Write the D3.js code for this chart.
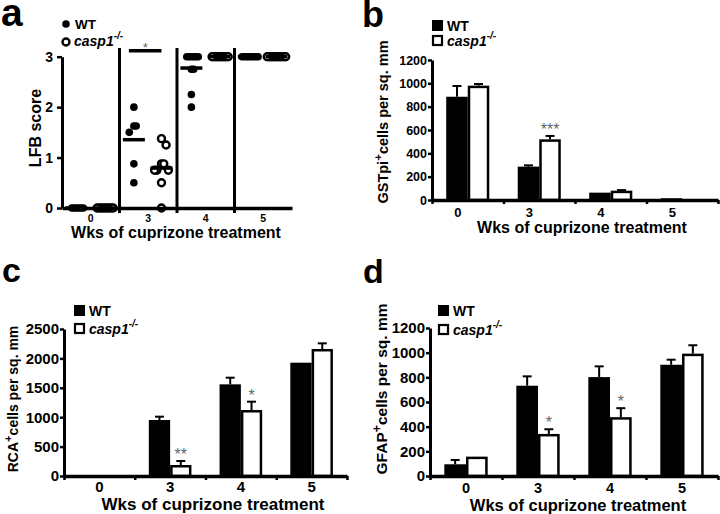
<!DOCTYPE html>
<html><head><meta charset="utf-8">
<script src="https://cdn.jsdelivr.net/npm/d3@7"></script>
<style>
body{margin:0;background:#fff}
svg{display:block}
text{font-family:"Liberation Sans",Arial,Helvetica,sans-serif;}
</style>
</head><body>
<svg id="chart" width="720" height="514"></svg>
<script>
// ---------- DATA ----------
const weeks = ["0", "3", "4", "5"];
const groups = ["WT", "casp1"];
const xTitle = "Wks of cuprizone treatment";

// Panel a: LFB score (individual animals)
const lfbWT = [
  [0, 0, 0, 0, 0, 0],
  [2, 1.625, 1.625, 1.5, 0.875, 0.5],
  [3, 3, 3, 3, 3, 3, 2.75, 2.75, 2.25, 2],
  [3, 3, 3, 3, 3, 3, 3, 3]
];
const lfbKO = [
  [0, 0, 0, 0, 0, 0, 0, 0],
  [1.375, 1.25, 0.875, 0.875, 0.75, 0.75, 0.75, 0.5, 0],
  [3, 3, 3, 3, 3, 3, 3, 3],
  [3, 3, 3, 3, 3, 3, 3, 3, 3]
];
const lfbTicks = [0, 1, 2, 3];

// Panel b: GSTpi+ cells per sq. mm
const gstWT = [885, 286, 63, 15];
const gstWTErr = [92, 11, 0, 0];
const gstKO = [980, 520, 80, 5];
const gstKOErr = [14, 29, 5, 0];
const gstStars = ["", "***", "", ""];
const gstTicks = [0, 200, 400, 600, 800, 1000, 1200];

// Panel c: RCA+ cells per sq. mm
const rcaWT = [0, 952, 1559, 1927];
const rcaWTErr = [0, 57, 113, 0];
const rcaKO = [0, 187, 1122, 2160];
const rcaKOErr = [0, 68, 142, 96];
const rcaStars = ["", "**", "*", ""];
const rcaTicks = [0, 500, 1000, 1500, 2000, 2500];

// Panel d: GFAP+ cells per sq. mm
const gfapWT = [95, 732, 802, 902];
const gfapWTErr = [35, 76, 87, 41];
const gfapKO = [157, 341, 477, 992];
const gfapKOErr = [0, 38, 73, 68];
const gfapStars = ["", "*", "*", ""];
const gfapTicks = [0, 200, 400, 600, 800, 1000, 1200];

// ---------- DRAW ----------
const svg = d3.select("#chart");

function styleAxis(g, fs) {
  g.select(".domain").attr("stroke", "#000").attr("stroke-width", 3);
  g.selectAll(".tick line").attr("stroke", "#000").attr("stroke-width", 2.5);
  g.selectAll("text").attr("font-size", fs).attr("font-weight", "bold").attr("fill", "#000");
}

function panelLetter(t, x, y, fs) {
  svg.append("text").attr("x", x).attr("y", y).attr("font-size", fs)
    .attr("font-weight", "bold").text(t);
}

function yTitle(x, y, main, sup, rest, fs) {
  const t = svg.append("text").attr("transform", `translate(${x},${y}) rotate(-90)`)
    .attr("text-anchor", "middle").attr("font-size", fs).attr("font-weight", "bold");
  t.append("tspan").text(main);
  if (sup) {
    t.append("tspan").attr("dy", -6).attr("font-size", fs * 0.8).text(sup);
    t.append("tspan").attr("dy", 6).text(rest);
  }
}

function xTitleText(x, y, fs) {
  svg.append("text").attr("x", x).attr("y", y).attr("text-anchor", "middle")
    .attr("font-size", fs).attr("font-weight", "bold").text(xTitle);
}

function legendLabel(x, y, fs, name) {
  const t = svg.append("text").attr("x", x).attr("y", y).attr("font-size", fs).attr("font-weight", "bold");
  if (name === "WT") { t.text("WT"); return; }
  t.append("tspan").attr("font-style", "italic").text("casp1");
  t.append("tspan").attr("dy", -7).attr("font-size", fs * 0.72).attr("font-style", "italic").text("-/-");
}

// ---- Panel a ----
(function () {
  const y = d3.scaleLinear().domain([0, 3]).range([208, 56.7]);
  const x = d3.scaleBand().domain(weeks).range([62, 292]);
  const pos = { WT: 0.25, casp1: 0.73 };
  const sameStep = 2.3, minDist = 7;

  // column-scatter layout: equal values sit side by side, near values avoid overlap
  function swarm(vals, cx) {
    const placed = [];
    vals.forEach(v => {
      const py = y(v);
      const cands = [0];
      for (let i = 1; i < 40; i++) cands.push(i * sameStep, -i * sameStep);
      let px = cx;
      for (const dx of cands) {
        const ok = placed.every(p => {
          const ddx = Math.abs(p.x - (cx + dx)), ddy = Math.abs(p.y - py);
          if (ddy < 0.5) return ddx >= sameStep * 0.99;
          return Math.hypot(ddx, ddy) >= minDist;
        });
        if (ok) { px = cx + dx; break; }
      }
      placed.push({ x: px, y: py, v });
    });
    return placed;
  }

  const ga = svg.append("g");
  // separators
  weeks.slice(1).forEach(w => {
    ga.append("line").attr("x1", x(w)).attr("x2", x(w)).attr("y1", 48).attr("y2", 213)
      .attr("stroke", "#000").attr("stroke-width", 3);
  });

  [lfbWT, lfbKO].forEach((ser, si) => {
    const gname = groups[si];
    ser.forEach((vals, wi) => {
      const cx = x(weeks[wi]) + x.bandwidth() * pos[gname];
      const pts = swarm(vals, cx);
      pts.forEach(p => {
        if (si === 0) ga.append("circle").attr("cx", p.x).attr("cy", p.y).attr("r", 3.8).attr("fill", "#000");
        else ga.append("circle").attr("cx", p.x).attr("cy", p.y).attr("r", 3.5)
          .attr("fill", "#fff").attr("stroke", "#000").attr("stroke-width", 2.4);
      });
      const m = d3.mean(vals);
      ga.append("line").attr("x1", cx - 11).attr("x2", cx + 11).attr("y1", y(m)).attr("y2", y(m))
        .attr("stroke", "#000").attr("stroke-width", 3.5);
    });
  });

  // significance bar week 3
  const w3 = x("3");
  const xa1 = w3 + x.bandwidth() * pos.WT - 5, xa2 = w3 + x.bandwidth() * pos.casp1;
  ga.append("line").attr("x1", xa1).attr("x2", xa2).attr("y1", y(3.12)).attr("y2", y(3.12))
    .attr("stroke", "#000").attr("stroke-width", 3.5);
  ga.append("text").attr("x", (xa1 + xa2) / 2).attr("y", y(3.12) + 1).attr("text-anchor", "middle")
    .attr("font-size", 13).attr("fill", "#666").text("*");

  // axes
  const gy = svg.append("g").attr("transform", "translate(62,0)")
    .call(d3.axisLeft(y).tickValues(lfbTicks).tickFormat(d3.format("d")).tickSize(5).tickSizeOuter(0).tickPadding(4));
  styleAxis(gy, 14);
  const gx = svg.append("g").attr("transform", "translate(0,208)")
    .call(d3.axisBottom(x).tickSize(0).tickSizeOuter(0));
  styleAxis(gx, 10.5);
  gx.select(".domain").attr("stroke-width", 3.5);
  gx.selectAll("text").attr("y", 14).attr("dy", null);

  // legend
  svg.append("circle").attr("cx", 66).attr("cy", 24).attr("r", 3.8).attr("fill", "#000");
  legendLabel(75, 29, 13.5, "WT");
  svg.append("circle").attr("cx", 66).attr("cy", 42).attr("r", 3.5).attr("fill", "#fff")
    .attr("stroke", "#000").attr("stroke-width", 2.4);
  legendLabel(74, 46, 14, "casp1");

  yTitle(41, 128, "LFB score", null, null, 16);
  xTitleText(176, 238, 16);
  panelLetter("a", 1, 26, 39);
})();

// ---- bar panels ----
function barPanel(cfg) {
  const x0 = d3.scaleBand().domain(weeks).range(cfg.xr);
  const x1 = d3.scaleBand().domain(groups).range([0, x0.bandwidth()]).paddingOuter(0.66);
  const y = d3.scaleLinear().domain([0, cfg.ymax]).range(cfg.yr);
  const g = svg.append("g");
  const series = [[cfg.wt, cfg.wtErr], [cfg.ko, cfg.koErr]];
  series.forEach(([vals, errs], si) => {
    const gname = groups[si];
    vals.forEach((v, wi) => {
      const bx = x0(weeks[wi]) + x1(gname), bw = x1.bandwidth();
      const cx = bx + bw / 2;
      if (errs[wi] > 0) {
        const et = y(v + errs[wi]);
        g.append("line").attr("x1", cx).attr("x2", cx).attr("y1", y(v)).attr("y2", et)
          .attr("stroke", "#000").attr("stroke-width", 2);
        g.append("line").attr("x1", cx - 4.5).attr("x2", cx + 4.5).attr("y1", et).attr("y2", et)
          .attr("stroke", "#000").attr("stroke-width", 2);
      }
      if (v <= 0) return;
      if (si === 0) {
        g.append("rect").attr("x", bx).attr("y", y(v)).attr("width", bw).attr("height", y(0) - y(v))
          .attr("fill", "#000");
      } else {
        const h = y(0) - y(v);
        g.append("rect").attr("x", bx + 1.25).attr("y", y(v) + 1.25).attr("width", bw - 2.5)
          .attr("height", Math.max(h - 1.25, 0)).attr("fill", "#fff").attr("stroke", "#000").attr("stroke-width", 2.5);
      }
    });
  });
  // stars
  cfg.stars.forEach((s, wi) => {
    if (!s) return;
    const cx = x0(weeks[wi]) + x1("casp1") + x1.bandwidth() / 2;
    const top = y(cfg.ko[wi] + cfg.koErr[wi]);
    g.append("text").attr("x", cx).attr("y", top - 1).attr("text-anchor", "middle")
      .attr("font-size", 16).attr("fill", "#666").text(s);
  });
  // y axis
  const gy = svg.append("g").attr("transform", `translate(${cfg.xr[0]},0)`)
    .call(d3.axisLeft(y).tickValues(cfg.yticks).tickFormat(d3.format("d")).tickSize(4).tickSizeOuter(0).tickPadding(1));
  styleAxis(gy, cfg.yfs);
  // x axis with boundary ticks
  const xb = d3.scaleLinear().domain([0, weeks.length]).range(cfg.xr);
  const gx = svg.append("g").attr("transform", `translate(0,${cfg.yr[0]})`)
    .call(d3.axisBottom(xb).tickValues(d3.range(weeks.length + 1)).tickFormat("").tickSize(4).tickSizeOuter(0));
  styleAxis(gx, 12);
  gx.select(".domain").attr("stroke-width", 3.5);
  const gl = svg.append("g").attr("transform", `translate(${cfg.labelDx},${cfg.yr[0]})`)
    .call(d3.axisBottom(x0).tickSize(0));
  gl.select(".domain").remove();
  styleAxis(gl, cfg.xfs);
  gl.selectAll("text").attr("y", cfg.labelY).attr("dy", null);
  // legend
  const L = cfg.legend;
  svg.append("rect").attr("x", L.x).attr("y", L.y1).attr("width", 11).attr("height", 11).attr("fill", "#000");
  legendLabel(L.tx, L.y1 + 10.5, L.fs, "WT");
  svg.append("rect").attr("x", L.x + 1).attr("y", L.y2 + 1).attr("width", 9).attr("height", 9)
    .attr("fill", "#fff").attr("stroke", "#000").attr("stroke-width", 2.2);
  legendLabel(L.tx, L.y2 + 10.5, L.fs, "casp1");
}

barPanel({ xr: [432, 718], yr: [200, 60], ymax: 1200, yticks: gstTicks,
  wt: gstWT, wtErr: gstWTErr, ko: gstKO, koErr: gstKOErr, stars: gstStars,
  yfs: 12.5, xfs: 13, labelDx: -10, labelY: 17,
  legend: { x: 432, y1: 20, y2: 35, tx: 447, fs: 14 } });
yTitle(388, 122, "GSTpi", "+", "cells per sq. mm", 14.5);
xTitleText(582, 233, 16);
panelLetter("b", 362, 27, 36);

barPanel({ xr: [64, 347], yr: [476, 329], ymax: 2500, yticks: rcaTicks,
  wt: rcaWT, wtErr: rcaWTErr, ko: rcaKO, koErr: rcaKOErr, stars: rcaStars,
  yfs: 15, xfs: 15, labelDx: 0, labelY: 16,
  legend: { x: 74, y1: 305, y2: 323, tx: 89, fs: 14 } });
yTitle(18, 399, "RCA", "+", "cells per sq. mm", 14);
xTitleText(213, 510, 17);
panelLetter("c", 2, 282, 34);

barPanel({ xr: [430, 718], yr: [476, 328], ymax: 1200, yticks: gfapTicks,
  wt: gfapWT, wtErr: gfapWTErr, ko: gfapKO, koErr: gfapKOErr, stars: gfapStars,
  yfs: 15, xfs: 14.5, labelDx: 0, labelY: 17,
  legend: { x: 438, y1: 305, y2: 324, tx: 453, fs: 14 } });
yTitle(387, 389, "GFAP", "+", "cells per sq. mm", 15.5);
xTitleText(578, 511, 16.5);
panelLetter("d", 363, 283, 34);
</script>
</body></html>
